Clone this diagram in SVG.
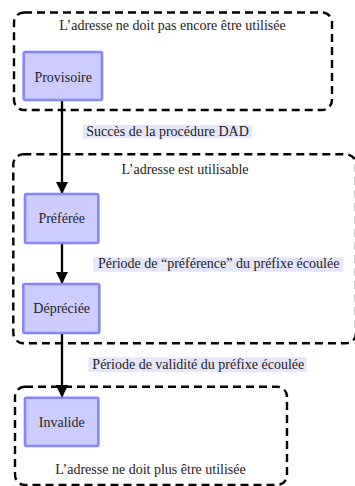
<svg xmlns="http://www.w3.org/2000/svg" width="355" height="486" viewBox="0 0 355 486">
<style>
.region{fill:none;stroke:#000;stroke-width:2.4;stroke-dasharray:8 5}
.node{fill:#ccccff;stroke:#8585ff;stroke-width:2.6}
.lbl{fill:#e6e6fb}
.edge{stroke:#000;stroke-width:2.3;fill:none}
</style>
<defs>
<marker id="ah" viewBox="0 0 10 10" refX="10" refY="5" markerWidth="5.4" markerHeight="5.4" orient="auto" markerUnits="strokeWidth">
<path d="M0,0 L10,5 L0,10 z" fill="#000"/>
</marker>
</defs>
<g id="region-provisoire">
<rect class="region" x="14" y="12.5" width="318" height="97.5" rx="10"/>
<text x="172.5" y="29.5" font-family="Liberation Serif" font-size="14" fill="#222" text-anchor="middle">L&#8217;adresse ne doit pas encore &#234;tre utilis&#233;e</text>
</g>
<g id="region-utilisable">
<rect class="region" x="13.3" y="154.3" width="342.7" height="189" rx="10"/>
<text x="185" y="174" font-family="Liberation Serif" font-size="14" fill="#222" text-anchor="middle">L&#8217;adresse est utilisable</text>
</g>
<g id="region-invalide">
<rect class="region" x="15" y="386.7" width="272" height="98.3" rx="10"/>
<text x="150.5" y="474.3" font-family="Liberation Serif" font-size="14" fill="#222" text-anchor="middle">L&#8217;adresse ne doit plus &#234;tre utilis&#233;e</text>
</g>
<g id="connectors">
<line class="edge" x1="62" y1="100" x2="62" y2="194" marker-end="url(#ah)"/>
<line class="edge" x1="62" y1="243" x2="62" y2="284" marker-end="url(#ah)"/>
<line class="edge" x1="62" y1="333" x2="62" y2="397.5" marker-end="url(#ah)"/>
<g id="label-dad">
<rect class="lbl" x="83" y="125" width="169" height="13.3"/>
<text x="167.5" y="135.6" font-family="Liberation Serif" font-size="14" fill="#222" text-anchor="middle">Succ&#232;s de la proc&#233;dure DAD</text>
</g>
<g id="label-preference">
<rect class="lbl" x="93.3" y="257.3" width="250" height="14.4"/>
<text x="218.7" y="268" font-family="Liberation Serif" font-size="14" fill="#222" text-anchor="middle">P&#233;riode de &#8220;pr&#233;f&#233;rence&#8221; du pr&#233;fixe &#233;coul&#233;e</text>
</g>
<g id="label-validite">
<rect class="lbl" x="88.3" y="357.3" width="218.4" height="15"/>
<text x="198.3" y="368.5" font-family="Liberation Serif" font-size="14" fill="#222" text-anchor="middle">P&#233;riode de validit&#233; du pr&#233;fixe &#233;coul&#233;e</text>
</g>
</g>
<g id="node-provisoire">
<rect class="node" x="23.7" y="52" width="78.3" height="48" rx="1.5"/>
<text x="63.2" y="81.5" font-family="Liberation Serif" font-size="14" fill="#222" text-anchor="middle">Provisoire</text>
</g>
<g id="node-preferee">
<rect class="node" x="25" y="194" width="73.3" height="49" rx="1.5"/>
<text x="61.7" y="223.3" font-family="Liberation Serif" font-size="14" fill="#222" text-anchor="middle">Pr&#233;f&#233;r&#233;e</text>
</g>
<g id="node-depreciee">
<rect class="node" x="23.3" y="284" width="76" height="49" rx="1.5"/>
<text x="61.7" y="313.3" font-family="Liberation Serif" font-size="14" fill="#222" text-anchor="middle">D&#233;pr&#233;ci&#233;e</text>
</g>
<g id="node-invalide">
<rect class="node" x="25" y="397.7" width="73.3" height="48.3" rx="1.5"/>
<text x="61.7" y="426.7" font-family="Liberation Serif" font-size="14" fill="#222" text-anchor="middle">Invalide</text>
</g>
</svg>
